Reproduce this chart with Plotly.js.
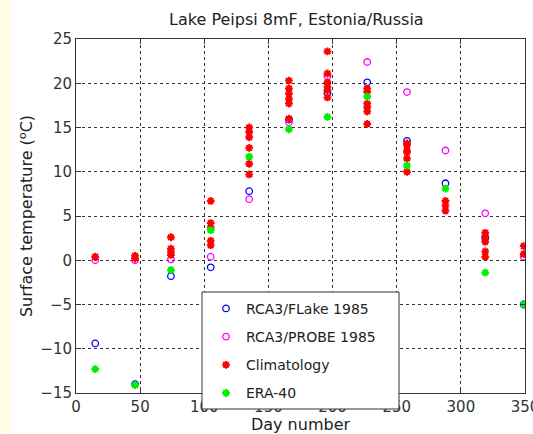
<!DOCTYPE html>
<html>
<head>
<meta charset="utf-8">
<script src="https://cdn.plot.ly/plotly-3.0.1.min.js"></script>
<style>
  html, body { margin: 0; padding: 0; }
  body { width: 533px; height: 434px; background: linear-gradient(to right, #FFFDE3 0, #FFFDE3 11px, #FFFFFF 11px); }
  #chart { width: 533px; height: 434px; }
</style>
</head>
<body>
<div id="chart"></div>
<script>
// Monthly mid-point days used for the model and reanalysis series
const monthDays = [15, 46, 74, 105, 135, 166, 196, 227, 258, 288, 319, 349];

// RCA3/FLake 1985 surface temperature (deg C)
const flakeTemp = [-9.4, -14.0, -1.8, -0.8, 7.8, 15.9, 18.9, 20.1, 13.5, 8.7, 2.5, -5.0];

// RCA3/PROBE 1985 surface temperature (deg C)
const probeTemp = [0.0, 0.0, 0.1, 0.4, 6.9, 15.6, 20.8, 22.4, 19.0, 12.4, 5.3, 0.4];

// ERA-40 surface temperature (deg C)
const eraTemp = [-12.3, -14.1, -1.1, 3.4, 11.7, 14.8, 16.2, 18.5, 10.7, 8.1, -1.4, -5.0];

// Climatology: several observed years per month
const climDay = [15, 46, 46,
  74, 74, 74, 74,
  105, 105, 105, 105, 105,
  135, 135, 135, 135, 135, 135,
  166, 166, 166, 166, 166, 166,
  196, 196, 196, 196, 196, 196,
  227, 227, 227, 227, 227, 227,
  258, 258, 258, 258, 258, 258,
  288, 288, 288,
  319, 319, 319, 319, 319,
  349, 349];
const climTemp = [0.4, 0.5, 0.2,
  2.6, 1.3, 0.9, 0.6,
  6.7, 4.2, 3.7, 2.2, 1.7,
  15.0, 14.5, 13.9, 12.7, 10.9, 9.7,
  20.3, 19.4, 18.8, 18.2, 17.7, 16.0,
  23.6, 21.1, 20.1, 19.6, 19.2, 18.4,
  19.4, 19.0, 17.7, 17.3, 16.8, 15.4,
  13.2, 13.0, 12.4, 12.2, 11.5, 10.0,
  6.7, 6.2, 5.6,
  3.1, 2.7, 2.1, 1.0, 0.4,
  1.6, 0.7];

const xTicks = [0, 50, 100, 150, 200, 250, 300, 350];
const yTicks = [-15, -10, -5, 0, 5, 10, 15, 20, 25];

const FONT = 'DejaVu Sans, Liberation Sans, Arial, sans-serif';

const traces = [
  {
    name: 'RCA3/FLake 1985', x: monthDays, y: flakeTemp, type: 'scatter', mode: 'markers',
    legendgroup: 'g1',
    marker: { symbol: 'circle-open', size: 6.5, color: '#0000FF', line: { width: 1.3 } }
  },
  {
    name: 'RCA3/PROBE 1985', x: monthDays, y: probeTemp, type: 'scatter', mode: 'markers',
    legendgroup: 'g2',
    marker: { symbol: 'circle-open', size: 6.5, color: '#FF00FF', line: { width: 1.3 } }
  },
  {
    name: 'Climatology', x: climDay, y: climTemp, type: 'scatter', mode: 'markers',
    legendgroup: 'g3',
    marker: { symbol: 'asterisk-open', size: 6.5, color: '#FF0000', line: { width: 2, color: '#FF0000' } }
  },
  {
    name: 'ERA-40', x: monthDays, y: eraTemp, type: 'scatter', mode: 'markers',
    legendgroup: 'g4',
    marker: { symbol: 'asterisk-open', size: 6.5, color: '#00EE00', line: { width: 2, color: '#00EE00' } }
  }
];

const axisCommon = {
  showline: true, mirror: 'ticks', linecolor: '#333', linewidth: 1,
  ticks: 'inside', ticklen: 5, tickcolor: '#333',
  showgrid: true, gridcolor: '#333', gridwidth: 1, griddash: 'dot',
  zeroline: false, automargin: false, ticklabeloverflow: 'allow',
  tickfont: { family: FONT, size: 15, color: '#333' }
};

const layout = {
  width: 533, height: 434,
  margin: { l: 76, r: 8, t: 39, b: 41 },
  paper_bgcolor: 'rgba(0,0,0,0)',
  plot_bgcolor: '#FFFFFF',
  font: { family: FONT, color: '#333' },
  title: {
    text: 'Lake Peipsi 8mF, Estonia/Russia',
    font: { family: FONT, size: 16, color: '#222' },
    xref: 'container', yref: 'container',
    x: 0.556, xanchor: 'center', y: 0.955, yanchor: 'middle'
  },
  xaxis: Object.assign({}, axisCommon, {
    range: [0, 350], tickvals: xTicks, ticktext: xTicks.map(String),
    title: { text: 'Day number', font: { family: FONT, size: 16, color: '#222' }, standoff: 0 }
  }),
  yaxis: Object.assign({}, axisCommon, {
    range: [-15, 25], tickvals: yTicks, ticktext: yTicks.map(v => v < 0 ? '\u2212' + Math.abs(v) : String(v)),
    title: { text: 'Surface temperature (<sup>o</sup>C)', font: { family: FONT, size: 16, color: '#222' }, standoff: 3 }
  }),
  // Legend frame, drawn as a box behind the transparent legend
  shapes: [{
    type: 'rect', xref: 'paper', yref: 'paper', layer: 'above',
    x0: 0.2806, x1: 0.7194, y0: -0.0452, y1: 0.2853,
    fillcolor: '#FFFFFF', line: { color: '#333', width: 1 }
  }],
  showlegend: true,
  legend: {
    x: 0.2895, y: 0.283, xanchor: 'left', yanchor: 'top',
    bgcolor: 'rgba(0,0,0,0)', borderwidth: 0,
    font: { family: FONT, size: 14, color: '#222' },
    traceorder: 'grouped', tracegroupgap: 7,
    itemwidth: 30
  }
};

Plotly.newPlot('chart', traces, layout, { displayModeBar: false, staticPlot: true });
</script>
</body>
</html>
